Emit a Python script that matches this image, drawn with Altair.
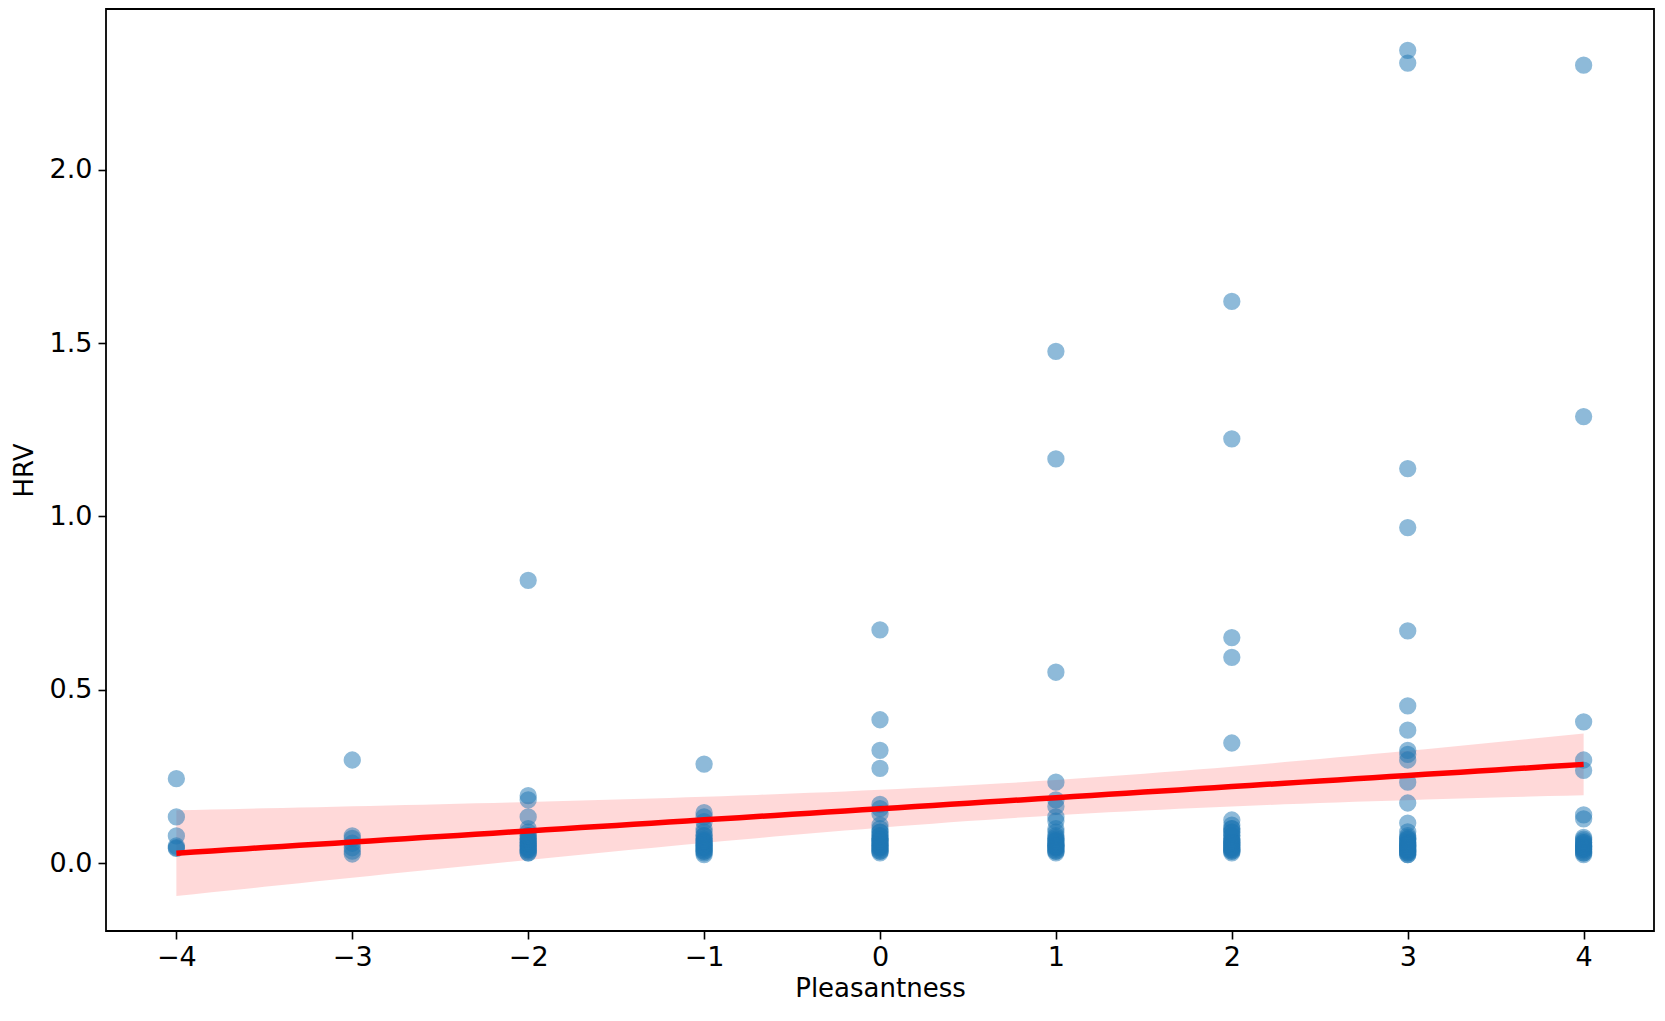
import altair as alt
import numpy as np
import pandas as pd

# Observed HRV values, grouped by Pleasantness rating (dense low clusters overlap)
pl_m4 = [0.244, 0.134, 0.079, 0.043, 0.05, 0.045]
pl_m3 = [0.298, 0.079, 0.072, 0.058, 0.045, 0.035, 0.027]
pl_m2 = [0.816, 0.195, 0.183, 0.134,
         0.03, 0.035, 0.04, 0.045, 0.05, 0.055, 0.06, 0.065, 0.07, 0.08, 0.09, 0.10,
         0.03, 0.04, 0.05, 0.06, 0.07, 0.08]
pl_m1 = [0.286, 0.146, 0.134, 0.12,
         0.025, 0.03, 0.035, 0.04, 0.045, 0.05, 0.055, 0.06, 0.065, 0.07, 0.08, 0.09,
         0.10, 0.035, 0.045, 0.055, 0.065, 0.08]
pl_0 = [0.673, 0.414, 0.326, 0.274, 0.17, 0.158, 0.143,
        0.03, 0.035, 0.04, 0.045, 0.05, 0.055, 0.06, 0.065, 0.07, 0.08, 0.09, 0.10,
        0.035, 0.045, 0.055, 0.065, 0.07, 0.08, 0.09, 0.11]
pl_1 = [1.476, 1.166, 0.551, 0.234, 0.183, 0.164, 0.134, 0.122,
        0.03, 0.035, 0.04, 0.045, 0.05, 0.055, 0.06, 0.065, 0.07, 0.08, 0.09, 0.10,
        0.035, 0.045, 0.055, 0.065, 0.075, 0.05]
pl_2 = [1.62, 1.224, 0.651, 0.594, 0.347, 0.125, 0.11,
        0.03, 0.035, 0.04, 0.045, 0.05, 0.055, 0.06, 0.065, 0.07, 0.08, 0.09, 0.10,
        0.035, 0.045, 0.055, 0.065, 0.08, 0.09, 0.10, 0.04, 0.06]
pl_3 = [2.344, 2.307, 1.138, 0.968, 0.670, 0.454, 0.384, 0.326, 0.314, 0.298,
        0.234, 0.174, 0.116, 0.091,
        0.025, 0.03, 0.035, 0.04, 0.045, 0.05, 0.055, 0.06, 0.065, 0.07, 0.075, 0.08,
        0.03, 0.04, 0.05, 0.06, 0.07, 0.045, 0.025, 0.035, 0.055]
pl_4 = [2.301, 1.288, 0.408, 0.298, 0.268, 0.14, 0.128,
        0.025, 0.03, 0.035, 0.04, 0.045, 0.05, 0.055, 0.06, 0.065, 0.07, 0.075,
        0.04, 0.05, 0.06, 0.03, 0.045]

ratings = [-4, -3, -2, -1, 0, 1, 2, 3, 4]
series = [pl_m4, pl_m3, pl_m2, pl_m1, pl_0, pl_1, pl_2, pl_3, pl_4]
xs, ys = [], []
for k, vals in zip(ratings, series):
    xs += [k] * len(vals)
    ys += vals
pts = pd.DataFrame({"Pleasantness": xs, "HRV": ys})

# OLS fit with 95% confidence band, derived from the points
x = np.array(xs, float)
y = np.array(ys, float)
n = len(x)
b1, b0 = np.polyfit(x, y, 1)
resid = y - (b0 + b1 * x)
s = np.sqrt(np.sum(resid ** 2) / (n - 2))
xm = x.mean()
sxx = np.sum((x - xm) ** 2)
grid = np.linspace(-4, 4, 81)
fit = b0 + b1 * grid
se = s * np.sqrt(1 / n + (grid - xm) ** 2 / sxx)
t = 1.97
band = pd.DataFrame({"Pleasantness": grid, "fit": fit,
                     "lo": fit - t * se, "hi": fit + t * se})

xscale = alt.Scale(domain=[-4.4, 4.4], nice=False, zero=False)
yscale = alt.Scale(domain=[-0.195, 2.463], nice=False, zero=False)

common = dict(grid=False, tickSize=8, tickWidth=1.6, tickColor="black", domain=False,
              labelFontSize=27, labelColor="black", labelFont="DejaVu Sans",
              titleFontSize=26, titleFontWeight="normal", titleColor="black",
              titleFont="DejaVu Sans")
xaxis = alt.Axis(values=ratings, format="d", labelPadding=5, titlePadding=5, **common)
yaxis = alt.Axis(values=[0, 0.5, 1.0, 1.5, 2.0], format=".1f", labelPadding=6,
                 titlePadding=12, **common)

area = alt.Chart(band).mark_area(color="#ff0000", opacity=0.15).encode(
    x=alt.X("Pleasantness:Q", scale=xscale, axis=xaxis, title="Pleasantness"),
    y=alt.Y("lo:Q", scale=yscale, axis=yaxis, title="HRV"),
    y2="hi:Q",
)

points = alt.Chart(pts).mark_circle(
    size=240, color="#1f77b4", opacity=0.5, stroke="#1f77b4", strokeWidth=1.8
).encode(
    x=alt.X("Pleasantness:Q", scale=xscale),
    y=alt.Y("HRV:Q", scale=yscale),
)

line = alt.Chart(band).mark_line(color="#ff0000", strokeWidth=5.5).encode(
    x=alt.X("Pleasantness:Q", scale=xscale),
    y=alt.Y("fit:Q", scale=yscale),
)

chart = (area + points + line).properties(
    width=1548, height=922,
    autosize=alt.AutoSizeParams(type="none"),
    padding={"left": 98, "top": 1, "right": 1, "bottom": 76},
).configure_view(stroke="black", strokeWidth=1.8)

chart.save("out.html", embed_options={"renderer": "svg", "actions": False})
